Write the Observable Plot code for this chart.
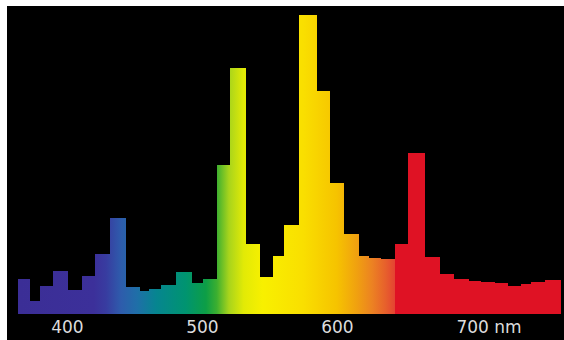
<!DOCTYPE html>
<html>
<head>
<meta charset="utf-8">
<script src="https://cdn.jsdelivr.net/npm/d3@7"></script>
<script src="https://cdn.jsdelivr.net/npm/@observablehq/plot@0.6"></script>
<style>
  html, body { margin: 0; padding: 0; background: #ffffff; width: 564px; height: 340px; overflow: hidden; }
  #chart { position: absolute; left: 7px; top: 6px; }
</style>
</head>
<body>
<div id="chart"></div>
<script>
// Bin edges (nm) and relative intensity of each bin (peak = 100)
const binEdgesNm = [364, 373, 380, 390, 401, 411, 421, 432, 444, 454, 461, 470, 481, 493, 501, 511, 521, 533, 543, 553, 561, 572, 585, 595, 605, 616, 624, 633, 643, 653, 665, 676, 687, 698, 707, 717, 727, 736, 744, 754, 766];
const intensity = [11.7, 4.3, 9.4, 14.4, 8.0, 12.7, 20.1, 32.1, 9.0, 7.7, 8.4, 9.7, 14.0, 10.4, 11.7, 49.8, 82.3, 23.4, 12.4, 19.4, 29.8, 100, 74.6, 43.8, 26.8, 19.4, 18.7, 18.4, 23.4, 53.8, 19.1, 13.4, 11.7, 11.0, 10.7, 10.4, 9.4, 10.0, 10.7, 11.4];

// Tick labels
const tickNm = [400, 500, 600, 700];
const tickLabels = ["400", "500", "600", "700 nm"];

// Spectrum colour stops
const stopNm = [364, 420, 429, 440, 452, 466, 488, 503, 511, 520, 531, 545, 575, 600, 615, 626, 636, 642.9, 643, 766];
const stopColor = ["#3b2e96", "#3c309a", "#383ca0", "#2e5cac", "#1f6fa8", "#068590", "#009470", "#0d9e46", "#3caf30", "#a8d41c", "#e2ea06", "#f8f000", "#f9df00", "#f6c300", "#f0a010", "#ec8222", "#e7602c", "#e44432", "#df1224", "#df1224"];

const bins = intensity.map((v, i) => ({ x1: binEdgesNm[i], x2: binEdgesNm[i + 1], y: v }));

const plot = Plot.plot({
  width: 557,
  height: 334,
  marginLeft: 0,
  marginRight: 0,
  marginTop: 0,
  marginBottom: 26,
  style: { background: "black", color: "#dcdcdc", fontFamily: "'DejaVu Sans', Verdana, sans-serif", fontSize: "17px" },
  x: { domain: [355.6, 768.2], label: null },
  y: { domain: [0, 103], axis: null },
  marks: [
    Plot.rectY(bins, { x1: "x1", x2: "x2", y: "y", fill: "url(#spectrum)", shapeRendering: "crispEdges" }),
    Plot.axisX(tickNm.slice(0, 3), { tickSize: 0, tickPadding: 6.6, label: null, tickFormat: (d) => tickLabels[tickNm.indexOf(d)] }),
    Plot.axisX(tickNm.slice(3), { tickSize: 0, tickPadding: 6.6, label: null, textAnchor: "start", dx: -16, tickFormat: (d) => tickLabels[tickNm.indexOf(d)] })
  ]
});

// Horizontal wavelength gradient, positioned with the plot's own x scale
const xs = plot.scale("x");
const gx0 = xs.apply(stopNm[0]);
const gx1 = xs.apply(stopNm[stopNm.length - 1]);
const svg = d3.select(plot);
const grad = svg.insert("defs", ":first-child")
  .append("linearGradient")
  .attr("id", "spectrum")
  .attr("gradientUnits", "userSpaceOnUse")
  .attr("x1", gx0).attr("x2", gx1).attr("y1", 0).attr("y2", 0);
stopNm.forEach((nm, i) => {
  grad.append("stop")
    .attr("offset", (xs.apply(nm) - gx0) / (gx1 - gx0))
    .attr("stop-color", stopColor[i]);
});

document.getElementById("chart").appendChild(plot);
</script>
</body>
</html>
